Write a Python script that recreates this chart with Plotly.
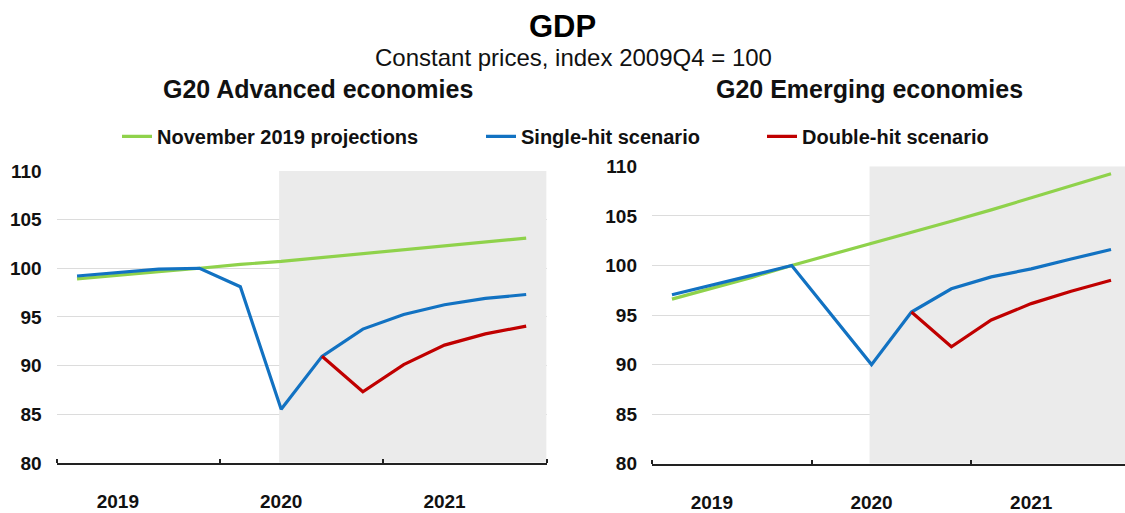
import plotly.graph_objects as go

# ---------------- data ----------------
quarters = ["2019Q1", "2019Q2", "2019Q3", "2019Q4",
            "2020Q1", "2020Q2", "2020Q3", "2020Q4",
            "2021Q1", "2021Q2", "2021Q3", "2021Q4"]
year_labels = ["2019", "2020", "2021"]
year_label_pos = [1, 5, 9]          # quarter index under which each year label sits
year_boundaries_start = -0.5

adv_nov2019 = [98.9, 99.3, 99.65, 100.0, 100.4, 100.7, 101.1, 101.5, 101.9, 102.3, 102.7, 103.1]
adv_single = [99.2, 99.55, 99.9, 100.0, 98.1, 85.5, 90.95, 93.75, 95.25, 96.25, 96.9, 97.3]
adv_double = [None, None, None, None, None, None, 90.95, 87.3, 90.1, 92.1, 93.25, 94.05]

emg_nov2019 = [96.6, 97.7, 98.8, 100.0, 101.1, 102.2, 103.3, 104.45, 105.6, 106.8, 108.0, 109.25]
emg_single = [97.05, 98.0, 99.0, 100.0, 95.0, 90.0, 95.3, 97.65, 98.85, 99.65, 100.65, 101.6]
emg_double = [None, None, None, None, None, None, 95.3, 91.8, 94.5, 96.15, 97.4, 98.5]

series_names = ["November 2019 projections", "Single-hit scenario", "Double-hit scenario"]
colors = ["#8fd24b", "#1272c2", "#c00000"]

shade_start = 4.95   # projection period shading starts at 2020Q2

# ---------------- figure ----------------
W, H = 1125, 513
FONT = "Liberation Sans, Arial, sans-serif"

x = list(range(len(quarters)))
fig = go.Figure()

legends = ["legend", "legend2", "legend3"]
for i, (name, ys) in enumerate(zip(series_names, [adv_nov2019, adv_single, adv_double])):
    fig.add_trace(go.Scatter(x=x, y=ys, mode="lines", name=name,
                             line=dict(color=colors[i], width=3.2),
                             xaxis="x", yaxis="y", legend=legends[i],
                             connectgaps=False, showlegend=True))
for i, (name, ys) in enumerate(zip(series_names, [emg_nov2019, emg_single, emg_double])):
    fig.add_trace(go.Scatter(x=x, y=ys, mode="lines", name=name,
                             line=dict(color=colors[i], width=3.2),
                             xaxis="x2", yaxis="y2", showlegend=False,
                             connectgaps=False))

n = len(quarters)

def xaxis_cfg(domain, rng):
    return dict(domain=domain, range=rng, showgrid=False, zeroline=False,
                tickmode="array", tickvals=year_label_pos, ticktext=year_labels,
                ticks="", ticklabelstandoff=21,
                tickfont=dict(family=FONT, size=19, color="#111111", weight="bold"),
                showline=True, linecolor="#222222", linewidth=1.5,
                minor=dict(tick0=year_boundaries_start, dtick=4, ticks="inside",
                           ticklen=4, tickcolor="#222222", tickwidth=1.5, showgrid=False),
                fixedrange=True)

def yaxis_cfg(domain, anchor):
    return dict(domain=domain, range=[80, 110], anchor=anchor,
                tickmode="linear", tick0=80, dtick=5,
                showgrid=True, gridcolor="#dcdcdc", gridwidth=1,
                zeroline=False, showline=False, ticks="", ticklabelstandoff=14,
                tickfont=dict(family=FONT, size=19, color="#111111", weight="bold"),
                fixedrange=True)

fig.update_layout(
    width=W, height=H,
    margin=dict(l=0, r=0, t=0, b=0),
    paper_bgcolor="white", plot_bgcolor="white",
    xaxis=dict(xaxis_cfg([56.6 / W, 546.6 / W], [-0.5, n - 0.5]), anchor="y"),
    yaxis=yaxis_cfg([(H - 484) / H, (H - 172) / H], "x"),
    xaxis2=dict(xaxis_cfg([652 / W, 1.0], [-0.5, n - 0.65]), anchor="y2"),
    yaxis2=yaxis_cfg([(H - 485) / H, (H - 167) / H], "x2"),
    showlegend=True,
)

# legends placed individually
leg_common = dict(orientation="h", yanchor="middle", y=(H - 135) / H, xanchor="left",
                  bgcolor="rgba(0,0,0,0)", borderwidth=0,
                  font=dict(family=FONT, size=20, color="#111111", weight="bold"),
                  itemwidth=30, tracegroupgap=0)
fig.update_layout(
    legend=dict(leg_common, x=117 / W),
    legend2=dict(leg_common, x=481 / W),
    legend3=dict(leg_common, x=762 / W),
)

# shaded projection period
fig.add_shape(type="rect", xref="x", yref="y", x0=shade_start, x1=n - 0.5, y0=80, y1=110,
              fillcolor="#ebebeb", line=dict(width=0), layer="between")
fig.add_shape(type="rect", xref="x2", yref="y2", x0=shade_start, x1=n - 0.5, y0=80, y1=110,
              fillcolor="#ebebeb", line=dict(width=0), layer="between")

# titles
fig.add_annotation(text="GDP", xref="paper", yref="paper", x=562 / W, y=(H - 18) / H,
                   showarrow=False, xanchor="center", yanchor="middle",
                   font=dict(family=FONT, size=31, color="#000000", weight="bold"))
fig.add_annotation(text="Constant prices, index 2009Q4 = 100", xref="paper", yref="paper",
                   x=573 / W, y=(H - 51) / H, showarrow=False, xanchor="center", yanchor="middle",
                   font=dict(family=FONT, size=24, color="#111111"))
fig.add_annotation(text="G20 Advanced economies", xref="paper", yref="paper",
                   x=318 / W, y=(H - 84) / H, showarrow=False, xanchor="center", yanchor="middle",
                   font=dict(family=FONT, size=25, color="#111111", weight="bold"))
fig.add_annotation(text="G20 Emerging economies", xref="paper", yref="paper",
                   x=869 / W, y=(H - 84) / H, showarrow=False, xanchor="center", yanchor="middle",
                   font=dict(family=FONT, size=25, color="#111111", weight="bold"))

fig.write_html("out.html")
